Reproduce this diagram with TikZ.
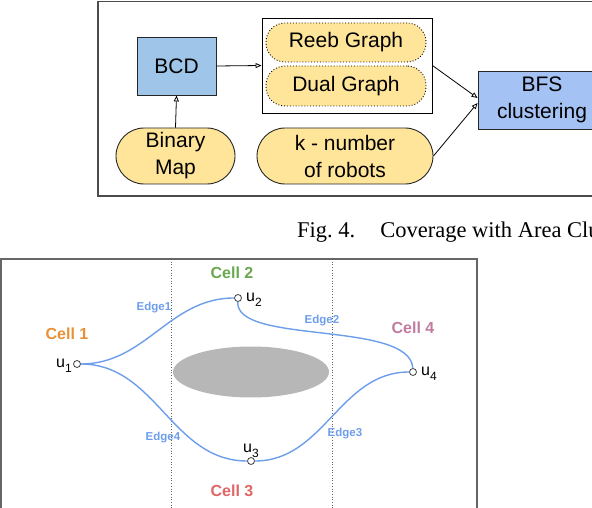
\documentclass[tikz,border=0pt]{standalone}
\usepackage{fontspec}
\setmainfont{Liberation Sans}
\newfontfamily\capfont{Liberation Serif}
\usetikzlibrary{arrows.meta,positioning}
\definecolor{bcdblue}{HTML}{9FC5E8}
\definecolor{bfsblue}{HTML}{A4C2F4}
\definecolor{boxyellow}{HTML}{FFE599}
\definecolor{edgeblue}{HTML}{6D9EEB}
\definecolor{cellone}{HTML}{E69138}
\definecolor{celltwo}{HTML}{6AA84F}
\definecolor{cellthree}{HTML}{E06666}
\definecolor{cellfour}{HTML}{C27BA0}
\definecolor{obst}{HTML}{B7B7B7}
\newcommand{\vsub}[1]{\raisebox{-5pt}{\fontsize{12}{12}\selectfont #1}}
\begin{document}
\begin{tikzpicture}[x=1pt,y=-1pt,
  boxtxt/.style={font=\fontsize{21}{27}\selectfont, align=center, inner sep=0pt},
  bluebox/.style={boxtxt, draw=black!85, line width=0.9pt},
  stadium/.style={boxtxt, draw=black!85, fill=boxyellow, line width=0.9pt, rounded corners=28pt},
  dotstadium/.style={boxtxt, draw=black, fill=boxyellow, dotted, line width=0.9pt, rounded corners=19pt},
  arr/.style={-{Triangle[open,length=6pt,width=5pt]}, line width=0.8pt, black},
  frame/.style={draw=black!70, line width=1.4pt},
  divider/.style={draw=black!60, dotted, line width=0.7pt},
  vtx/.style={circle, draw=black!75, fill=white, line width=0.8pt, inner sep=0pt, minimum size=7pt},
  vlbl/.style={font=\fontsize{16}{16}\selectfont, inner sep=0pt},
  celllbl/.style={font=\fontsize{16}{16}\selectfont\bfseries, inner sep=0pt},
  edgelbl/.style={font=\fontsize{11.5}{12}\selectfont\bfseries, text=edgeblue, inner sep=0pt},
  curve/.style={draw=edgeblue, line width=1.4pt}
]
\useasboundingbox (0,0) rectangle (592,508);
% ---------- top flow chart ----------
\draw[frame] (98,1.5) rectangle (600,196);
\node[bluebox, fill=bcdblue, minimum width=79pt, minimum height=58pt] (bcd) at (176.5,66) {BCD};
\node[draw=black, line width=0.9pt, fill=white, minimum width=170pt, minimum height=95pt, inner sep=0pt] (cont) at (347,65.5) {};
\node[dotstadium, minimum width=160pt, minimum height=39pt] (reeb) at (346,42.5) {Reeb Graph};
\node[dotstadium, minimum width=160pt, minimum height=40pt] (dual) at (346,86) {Dual Graph};
\node[stadium, minimum width=119pt, minimum height=56pt] (bin) at (175.5,156) {Binary\\Map};
\node[stadium, minimum width=176pt, minimum height=56pt] (k) at (345,156) {k - number\\of robots};
\node[bluebox, fill=bfsblue, minimum width=128pt, minimum height=58pt] (bfs) at (542,100) {BFS\\clustering};
\draw[arr] (bcd.east) -- (cont.west);
\draw[arr] (bin.north) -- (bcd.south);
\draw[arr] (cont.east) -- ([yshift=2pt]bfs.west);
\draw[arr] (k.east) -- ([yshift=-3pt]bfs.west);
% ---------- caption ----------
\node[anchor=base west, inner sep=0pt, font=\capfont\fontsize{22.5}{22.5}\selectfont] (cap) at (297,237) {Fig.~4.\hspace{25pt}Coverage with Area Clu};
% ---------- bottom cell diagram ----------
\draw[frame, draw=black!60] (1,259) rectangle (477,515);
\coordinate (d1t) at (171,259);
\coordinate (d1b) at (171,508);
\coordinate (d2t) at (332,259);
\coordinate (d2b) at (332,508);
\draw[divider] (d1t) -- (d1b);
\draw[divider] (d2t) -- (d2b);
\fill[obst] (251,372) ellipse [x radius=78pt, y radius=25.5pt];
\node[vtx] (u1) at (77,364) {};
\node[vtx] (u2) at (238,298) {};
\node[vtx] (u3) at (251,461) {};
\node[vtx] (u4) at (413,372) {};
\draw[curve] (u1) to[out=0,in=180] (u2);
\draw[curve] (u2) .. controls (235,345) and (410,320) .. (u4);
\draw[curve] (u4) to[out=180,in=0] (u3);
\draw[curve] (u1) to[out=0,in=180] (u3);
\node[vlbl, anchor=east] (l1) at (72,366) {u\vsub{1}};
\node[vlbl, anchor=west] (l2) at (246,300) {u\vsub{2}};
\node[vlbl, anchor=west] (l3) at (243,451) {u\vsub{3}};
\node[vlbl, anchor=west] (l4) at (421,374) {u\vsub{4}};
\node[celllbl, text=cellone] (c1) at (67,334) {Cell 1};
\node[celllbl, text=celltwo] (c2) at (232,273) {Cell 2};
\node[celllbl, text=cellthree] (c3) at (232,491) {Cell 3};
\node[celllbl, text=cellfour] (c4) at (413,328) {Cell 4};
\node[edgelbl] (e1) at (154,308) {Edge1};
\node[edgelbl] (e2) at (322,321) {Edge2};
\node[edgelbl] (e3) at (345,434) {Edge3};
\node[edgelbl] (e4) at (163,438) {Edge4};
\end{tikzpicture}
\end{document}
